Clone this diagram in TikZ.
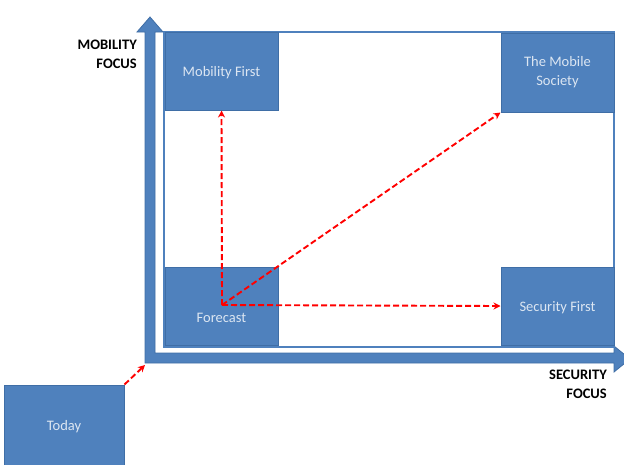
\documentclass[tikz,border=0pt]{standalone}
\usepackage{fontspec}
\setmainfont{Carlito}
\usetikzlibrary{arrows.meta}
\definecolor{boxblue}{HTML}{4F81BD}
\definecolor{boxedge}{HTML}{3F6EA6}
\definecolor{boxtext}{HTML}{DCE6F2}
\begin{document}
\begin{tikzpicture}[x=1pt,y=-1pt,
  quad/.style={draw=boxedge, line width=1pt, fill=boxblue, text=boxtext,
    font=\fontsize{14.5}{19}\selectfont, align=center, inner sep=0pt},
  boxtxt/.style={text=boxtext, font=\fontsize{14.5}{19}\selectfont, inner sep=0pt},
  axislbl/.style={font=\bfseries\fontsize{14.5}{19}\selectfont, align=right, text=black, inner sep=0pt},
  axisarrow/.style={fill=boxblue, draw=boxedge, line width=0.8pt, line join=miter},
  flow/.style={draw=red, line width=1.9pt, dash pattern=on 6pt off 3pt,
    -{Stealth[length=7pt,width=7pt]}}]
\useasboundingbox (0,0) rectangle (624,464);
\clip (0,0) rectangle (624,464);
% axes
\path[axisarrow] (145,362) -- (145,32) -- (137,32) -- (150,17) -- (163,32) -- (155,32) -- (155,353)
  -- (614,353) -- (614,346) -- (630,359) -- (614,372) -- (614,363) -- (145,363) -- cycle;
% frame
\draw[boxblue, line width=1.5pt] (164,32) rectangle (614,347);
% boxes
\node[quad, minimum width=113pt, minimum height=78pt] (mob) at (221.5,71) {};
\node[boxtxt] (moblbl) at (221.5,73) {Mobility First};
\node[quad, minimum width=113pt, minimum height=79pt] (soc) at (557.5,72.5) {The Mobile\\Society};
\node[quad, minimum width=113pt, minimum height=78pt] (fc) at (221.5,306) {};
\node[boxtxt] (fclbl) at (221.5,318) {Forecast};
\node[quad, minimum width=113pt, minimum height=78pt] (sec) at (557.5,306) {};
\node[boxtxt] (seclbl) at (557.5,307.5) {Security First};
\node[quad, minimum width=120pt, minimum height=84pt] (today) at (64,427) {Today};
% labels
\node[axislbl, anchor=north east] (ylbl) at (137,40) {MOBILITY\\FOCUS};
\node[axislbl, anchor=north east] (xlbl) at (607,370) {SECURITY\\FOCUS};
% flows
\coordinate (start) at (222,305);
\coordinate (axiscorner) at (145,365);
\draw[flow] (start) -- (mob.south);
\draw[flow] (start) -- (sec.west);
\draw[flow] (start) -- (soc.south west);
\draw[flow] (today.north east) -- (axiscorner);
\end{tikzpicture}
\end{document}
